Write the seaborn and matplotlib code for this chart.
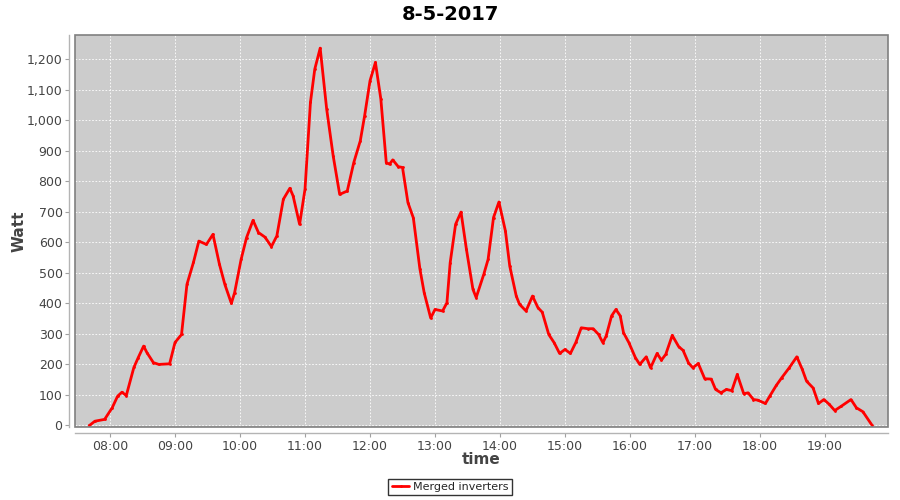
import pandas as pd
import matplotlib
matplotlib.use("Agg")
import matplotlib.pyplot as plt
import matplotlib.dates as mdates
from matplotlib.patches import Rectangle
from matplotlib.ticker import FuncFormatter, MultipleLocator
import seaborn as sns

# readings of the merged inverters on 8-5-2017 (time, watt)
times = [
    "07:41", "07:46", "07:55", "08:02", "08:07", "08:11", "08:15", "08:22", "08:26", "08:31",
    "08:34", "08:40", "08:45", "08:55", "09:00", "09:06", "09:11", "09:17", "09:22", "09:29",
    "09:35", "09:41", "09:46", "09:52", "09:55", "10:01", "10:06", "10:12", "10:17", "10:23",
    "10:29", "10:34", "10:40", "10:46", "10:49", "10:55", "11:00", "11:05", "11:09", "11:14",
    "11:20", "11:26", "11:32", "11:39", "11:45", "11:51", "11:55", "12:00", "12:05", "12:10",
    "12:15", "12:18", "12:21", "12:26", "12:30", "12:35", "12:40", "12:46", "12:50", "12:56",
    "13:00", "13:07", "13:11", "13:14", "13:19", "13:24", "13:29", "13:35", "13:38", "13:45",
    "13:49", "13:54", "13:59", "14:05", "14:09", "14:15", "14:18", "14:24", "14:30", "14:35",
    "14:39", "14:45", "14:50", "14:55", "15:00", "15:05", "15:10", "15:15", "15:21", "15:26",
    "15:31", "15:35", "15:38", "15:43", "15:47", "15:51", "15:54", "15:59", "16:05", "16:09",
    "16:15", "16:19", "16:25", "16:29", "16:33", "16:39", "16:45", "16:49", "16:54", "16:58",
    "17:03", "17:09", "17:15", "17:19", "17:24", "17:29", "17:34", "17:39", "17:45", "17:49",
    "17:54", "17:58", "18:05", "18:09", "18:15", "18:20", "18:27", "18:34", "18:39", "18:43",
    "18:49", "18:54", "18:59", "19:04", "19:09", "19:15", "19:24", "19:29", "19:35", "19:43",
]
watt = [
    0, 14, 20, 58, 96, 109, 98, 190, 222, 260,
    239, 206, 200, 202, 272, 298, 462, 534, 604, 593,
    626, 528, 462, 400, 435, 544, 615, 672, 632, 617,
    586, 621, 741, 777, 752, 659, 774, 1058, 1167, 1236,
    1036, 883, 757, 768, 861, 932, 1014, 1129, 1189, 1069,
    861, 856, 870, 848, 845, 730, 680, 514, 435, 352,
    380, 375, 402, 533, 659, 699, 577, 446, 419, 495,
    544, 681, 732, 637, 522, 424, 397, 375, 424, 386,
    371, 298, 271, 236, 249, 236, 272, 320, 317, 317,
    298, 271, 293, 359, 380, 359, 304, 271, 222, 200,
    225, 189, 236, 214, 233, 295, 258, 246, 205, 189,
    203, 153, 152, 118, 107, 118, 114, 167, 104, 107,
    85, 83, 72, 96, 131, 156, 189, 225, 184, 145,
    123, 72, 85, 69, 49, 63, 85, 58, 45, 3,
]

day = "2017-05-08"
df = pd.DataFrame({
    "time": pd.to_datetime([f"{day} {t}" for t in times]),
    "Watt": watt,
    "series": "Merged inverters",
})

sns.set_style("white")
plt.rcParams["font.family"] = ["DejaVu Sans"]

fig = plt.figure(figsize=(9, 5), dpi=100)
# plot box: x 75..888 px, y 35..427 px
ax = fig.add_axes([75 / 900, 73 / 500, 813 / 900, 392 / 500])
ax.set_facecolor("#cccccc")

sns.lineplot(data=df, x="time", y="Watt", hue="series", palette=["#ff0000"],
             linewidth=2, marker="o", markersize=2, markeredgewidth=0, ax=ax)

ax.set_xlim(pd.Timestamp(f"{day} 07:27:40"), pd.Timestamp(f"{day} 19:58:10"))
ax.set_ylim(-5, 1279)
ax.xaxis.set_major_locator(mdates.HourLocator())
ax.xaxis.set_major_formatter(mdates.DateFormatter("%H:%M"))
ax.yaxis.set_major_locator(MultipleLocator(100))
ax.yaxis.set_major_formatter(FuncFormatter(lambda v, p: f"{v:,.0f}"))

ax.grid(True, color="white", linestyle=(0, (2, 2)), linewidth=0.6)
ax.set_axisbelow(True)

# JFreeChart style: axis lines sit a few pixels away from the plot outline
for side in ["top", "right"]:
    ax.spines[side].set_visible(False)
for side in ["left", "bottom"]:
    ax.spines[side].set_position(("outward", 4))
    ax.spines[side].set_color("#b4b4b4")
    ax.spines[side].set_linewidth(1)
ax.add_patch(Rectangle((0, 0), 1, 1, transform=ax.transAxes, fill=False,
                       edgecolor="#808080", linewidth=1.2, clip_on=False, zorder=5))

ax.tick_params(axis="both", which="major", labelsize=9, labelcolor="#444444",
               color="#a0a0a0", length=3, width=0.8, direction="out",
               left=True, bottom=True, pad=2)

ax.set_xlabel("time", fontsize=11, fontweight="bold", color="#444444")
ax.set_ylabel("Watt", fontsize=11, fontweight="bold", color="#444444")
ax.xaxis.set_label_coords(0.5, -0.064)
ax.yaxis.set_label_coords(-0.059, 0.5)
fig.suptitle("8-5-2017", fontsize=14, fontweight="bold", color="black", y=0.99)

ax.get_legend().remove()
handles, labels = ax.get_legend_handles_labels()
leg = fig.legend(handles, labels, loc="center", bbox_to_anchor=(0.5, 0.026),
                 fontsize=8, frameon=True, fancybox=False, borderpad=0.3,
                 handlelength=1.6, handletextpad=0.3)
leg.get_frame().set_edgecolor("black")
leg.get_frame().set_linewidth(1)

fig.savefig("out.png", dpi=100)
